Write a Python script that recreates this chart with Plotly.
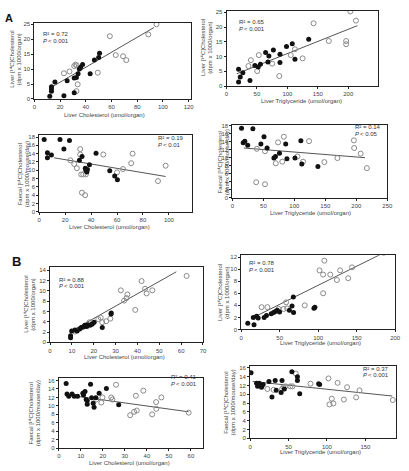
import plotly.graph_objects as go

W, H = 409, 471

# ---------------- DATA ----------------
# Panel A1: Liver cholesterol vs liver [14C]cholesterol
a1_fx = [12, 13.3, 13.3, 13.3, 16, 23, 25.5, 31, 31, 32.7, 34, 35, 36, 37.5, 43.4, 46.7, 50, 50.7]
a1_fy = [0.9, 3.4, 2.6, 4.1, 5.7, 1.1, 6.1, 7, 2.1, 7.2, 8.4, 10, 10.6, 11.5, 8.4, 13, 13.9, 15.3]
a1_ox = [23, 27.3, 31, 32, 33, 33.7, 32.7, 49.3, 58.7, 63.3, 69, 71.5, 88.6, 95]
a1_oy = [8.6, 9.2, 11, 11.5, 11.2, 4.9, 2.6, 8.8, 21, 14.7, 14.3, 13, 21.6, 25]
a1_lx = [12.8, 93]
a1_ly = [3.8, 23.9]

# Panel A2: Liver triglyceride vs liver [14C]cholesterol
a2_fx = [19.8, 19.8, 22.5, 26.8, 38.5, 46.6, 52, 55.7, 64.2, 68, 69.6, 77, 87.8, 87.8, 98.5, 108, 112.4, 135]
a2_fy = [1.4, 5.7, 3.1, 4.5, 1.9, 7, 6.5, 7.4, 11.4, 8.2, 10.2, 12.2, 8, 10.8, 13.4, 14.4, 9.1, 15.9]
a2_ox = [36, 40, 50.4, 53, 75, 86.7, 105.5, 112.4, 125, 143, 168, 196.5, 196.5, 203.4, 212.5]
a2_oy = [6.8, 8.8, 5.1, 10.5, 7.6, 3.4, 10.5, 12.5, 9.4, 21.3, 15.3, 15.3, 14.2, 25.3, 22.2]
a2_lx = [17, 215]
a2_ly = [4.2, 20.5]

# Panel A3: Liver cholesterol vs faecal [14C]cholesterol
a3_fx = [3.8, 6.3, 6.3, 9.4, 16, 19, 23.3, 31, 33, 35.5, 36, 36.7, 37.2, 38.7, 43.8, 54.4, 58.2, 60.3]
a3_fy = [17.4, 14.2, 13, 13.7, 17.4, 15.1, 17.2, 12.4, 13.3, 10.5, 10, 9.6, 10.2, 11.3, 14.1, 9.9, 8.6, 7.7]
a3_ox = [31.6, 31.6, 24, 27, 29, 32.4, 34, 36, 32.9, 35.4, 49.4, 60, 64.6, 70.9, 72, 91.6, 97.5]
a3_oy = [15.1, 13.8, 12.4, 11.5, 10.5, 9, 9, 9, 4.6, 4, 13.8, 9.5, 10.3, 11.7, 14, 7.4, 11.1]
a3_lx = [11.4, 97.5]
a3_ly = [13, 8.5]

# Panel A4: Liver triglyceride vs faecal [14C]cholesterol
a4_fx = [14.7, 17.4, 20, 24.7, 33, 46, 51, 56, 67, 69.5, 76, 86, 88, 101, 110.5, 112, 138]
a4_fy = [17.3, 13.7, 14.1, 13.1, 17.2, 13.4, 15.2, 12.4, 9.9, 10.3, 11.1, 13.4, 9.7, 9.9, 14.2, 8.4, 7.8]
a4_ox = [39.5, 38.4, 52.6, 52.6, 70, 73.7, 80.5, 83, 105, 114, 123.7, 148.4, 169.5, 196, 196.5, 207, 217]
a4_oy = [12.2, 3.9, 11.6, 3.4, 8.6, 13.8, 9, 15.2, 10.3, 9, 14.1, 8.9, 9.9, 14.3, 12.4, 11, 7.4]
a4_lx = [18.4, 214]
a4_ly = [12.4, 10]

# Panel B1
b1_fx = [9.4, 9.4, 9.9, 11.4, 12.4, 13.6, 14.3, 15.3, 15.9, 16.8, 17.4, 18.3, 19.2, 20.2, 23.9, 28, 27.9]
b1_fy = [1.3, 0.9, 2.2, 2.4, 2.2, 2.6, 2.9, 3.0, 3.3, 3.1, 3.4, 3.3, 3.5, 3.9, 2.9, 5.7, 5.5]
b1_ox = [11.4, 18, 19.5, 22.1, 23.2, 23.9, 25.7, 27.6, 32.4, 33.9, 35, 35.4, 39, 41.9, 43.5, 44.2, 46.8, 62.5]
b1_oy = [2.1, 3.9, 3.7, 4.5, 4.8, 3.9, 4.1, 4.6, 10.1, 8.1, 8.6, 9.3, 6.3, 11.9, 10.4, 9.5, 10.1, 12.9]
b1_lx = [9.4, 57.8]
b1_ly = [2.1, 13.7]

# Panel B2
b2_fx = [8.5, 16.6, 15.7, 20, 22, 29.8, 32.8, 39, 42, 44.3, 46.8, 49.8, 62.6, 66, 67.7, 68, 94.5, 95.7]
b2_fy = [1.05, 0.8, 2, 2.2, 1.9, 2, 2.3, 2.6, 2.8, 3, 3.2, 2.9, 3.2, 3.9, 5.4, 2.8, 3.5, 3.7]
b2_ox = [26.4, 34, 48.5, 55, 58.3, 59.6, 82.5, 101.7, 106.4, 106.4, 108, 115.7, 124.3, 128.5, 139, 144, 185]
b2_oy = [3.7, 3.7, 3.4, 3.4, 4.5, 3.5, 4, 9.8, 9.1, 6, 11.4, 9.1, 8.2, 9.8, 8.5, 10.3, 12.7]
b2_lx = [15.7, 185]
b2_ly = [2, 12.7]

# Panel B3
b3_fx = [3.3, 3.7, 4.5, 6, 7, 8.5, 10.9, 11.2, 11.9, 12.4, 12.9, 12.9, 14.4, 14.9, 15.6, 16, 16.8, 18.3, 21.6, 27.2]
b3_fy = [15.3, 12.8, 12.3, 12.8, 12.3, 12.3, 13, 12.6, 13.4, 11.5, 11.2, 10.4, 15.1, 11.9, 10.6, 9.7, 11.9, 13, 14.1, 10.3]
b3_ox = [17, 19.3, 19.8, 23.8, 24.3, 26, 32.4, 34.2, 35.4, 35, 38.4, 42.4, 44.2, 44.3, 46.6, 59]
b3_oy = [11.5, 10.8, 12, 12, 11.5, 15, 7.8, 8.6, 8.9, 12.4, 13.6, 8, 10.9, 9.3, 12, 8.4]
b3_lx = [3.7, 59]
b3_ly = [12.6, 8.6]

# Panel B4
b4_fx = [1.3, 8.5, 9.8, 11.9, 14.9, 17, 24.6, 28.5, 32.7, 34, 40.4, 41.6, 44.6, 54.4, 61.6, 61.6, 64.6, 89.2, 90.5]
b4_fy = [14.9, 12.5, 11.8, 12.5, 11.6, 12.2, 12.9, 9.4, 13.1, 10.9, 10.4, 13.1, 11.2, 15.1, 14, 13.1, 10.1, 12.4, 12.2]
b4_ox = [22.5, 30.6, 41.6, 43.4, 45.9, 52.3, 55.2, 59.5, 78.6, 102, 103.3, 106.3, 108.4, 113.9, 122, 126.2, 138, 142.4, 185.7]
b4_oy = [11.2, 11, 11.2, 11.6, 11.8, 11.8, 11.8, 14.7, 12.4, 13.6, 7.7, 9, 7.9, 12.6, 8.8, 11.6, 9.3, 10.9, 8.7]
b4_lx = [3.4, 185]
b4_ly = [12.9, 9.6]

r2_text = ["R² = 0.72", "R² = 0.65", "R² = 0.19", "R² = 0.14",
           "R² = 0.88", "R² = 0.78", "R² = 0.41", "R² = 0.37"]
p_text = ["< 0.001", "< 0.001", "< 0.01", "< 0.05",
          "< 0.001", "< 0.001", "< 0.001", "< 0.001"]
xtitles = ["Liver Cholesterol (umol/organ)", "Liver Triglyceride (umol/organ)"]
ytitles = [("Liver [¹⁴C]Cholesterol", "(dpm x 1000/organ)"),
           ("Faecal [¹⁴C]Cholesterol", "(dpm x 1000/mouse/day)")]

# ---------------- LAYOUT ----------------
panels = [
    ((a1_fx, a1_fy, a1_ox, a1_oy, a1_lx, a1_ly), [0, 122], [0, 25.5], 33, 193, 98, 21, 20, 5, (40, 36, "left"), 0, 0, (105, 114), (14, 58)),
    ((a2_fx, a2_fy, a2_ox, a2_oy, a2_lx, a2_ly), [0, 248], [0, 25.5], 229, 383, 85, 9, 50, 5, (240, 24, "left"), 1, 0, (305, 100), (208, 46)),
    ((a3_fx, a3_fy, a3_ox, a3_oy, a3_lx, a3_ly), [0, 118], [0, 18.6], 38, 194, 212, 134, 20, 2, (187, 141, "right"), 0, 1, (110, 227), (22, 174)),
    ((a4_fx, a4_fy, a4_ox, a4_oy, a4_lx, a4_ly), [0, 250], [0, 18.2], 235, 393, 198, 124, 50, 2, (388, 130, "right"), 1, 1, (315, 213), (226, 162)),
    ((b1_fx, b1_fy, b1_ox, b1_oy, b1_lx, b1_ly), [0, 70], [0, 14.6], 49, 205, 344, 268, 10, 2, (56, 284, "left"), 0, 0, (125, 359), (28, 306)),
    ((b2_fx, b2_fy, b2_ox, b2_oy, b2_lx, b2_ly), [0, 200], [0, 12.3], 244, 401, 331, 256, 50, 2, (250, 267, "left"), 1, 0, (325, 345), (226, 294)),
    ((b3_fx, b3_fy, b3_ox, b3_oy, b3_lx, b3_ly), [0, 65.5], [0, 16.6], 58, 205, 451, 380, 10, 2, (200, 383, "right"), 0, 1, (130, 466), (33, 416)),
    ((b4_fx, b4_fy, b4_ox, b4_oy, b4_lx, b4_ly), [0, 190], [0, 16.4], 253, 402, 441, 368, 50, 2, (396, 374, "right"), 1, 1, (325, 455), (232, 405)),
]

FONT = "Liberation Sans"
fig = go.Figure()
annotations = []
layout_axes = {}


def ann(px, py, text, size=6, xanchor="center", angle=0, color="#444444", style="normal"):
    return dict(x=px / W, y=1 - py / H, xref="paper", yref="paper", text=text,
                showarrow=False, xanchor=xanchor, yanchor="middle", textangle=angle,
                font=dict(size=size, color=color, family=FONT, style=style))


for i, (d, xr, yr, x0, x1, yb, yt, xdt, ydt, spos, xti, yti, xtp, ytp) in enumerate(panels):
    n = "" if i == 0 else str(i + 1)
    xa, ya = "x" + n, "y" + n
    fx, fy, ox, oy, lx, ly = d
    fig.add_trace(go.Scatter(x=lx, y=ly, mode="lines", xaxis=xa, yaxis=ya,
                             line=dict(color="#555555", width=1), showlegend=False, hoverinfo="skip"))
    fig.add_trace(go.Scatter(x=ox, y=oy, mode="markers", xaxis=xa, yaxis=ya, showlegend=False,
                             marker=dict(symbol="circle-open", size=5, color="#8a8a8a", line=dict(width=1))))
    fig.add_trace(go.Scatter(x=fx, y=fy, mode="markers", xaxis=xa, yaxis=ya, showlegend=False,
                             marker=dict(symbol="circle", size=5, color="#111111")))
    common = dict(showline=True, linecolor="#222222", linewidth=1, mirror=True, ticks="outside",
                  ticklen=2, tickcolor="#222222", showgrid=False, zeroline=False,
                  tickfont=dict(size=6, color="#444444", family=FONT))
    layout_axes["xaxis" + n] = dict(common, domain=[x0 / W, x1 / W], range=xr, dtick=xdt,
                                    tick0=0, anchor=ya)
    layout_axes["yaxis" + n] = dict(common, domain=[1 - yb / H, 1 - yt / H], range=yr, dtick=ydt,
                                    tick0=0, anchor=xa)
    sx = spos[0] if spos[2] == "left" else spos[0] - 30
    annotations.append(ann(sx, spos[1] - 3.5, r2_text[i], xanchor="left", color="#333333"))
    annotations.append(ann(sx, spos[1] + 3.5, "P", xanchor="left", color="#333333", style="italic"))
    annotations.append(ann(sx + 5, spos[1] + 3.5, p_text[i], xanchor="left", color="#333333"))
    annotations.append(ann(xtp[0], xtp[1], xtitles[xti]))
    annotations.append(ann(ytp[0] - 3.5, ytp[1], ytitles[yti][0], angle=-90))
    annotations.append(ann(ytp[0] + 3.5, ytp[1], ytitles[yti][1], angle=-90))

annotations.append(ann(1, 16, "<b>A</b>", size=11, xanchor="left", color="#111111"))
annotations.append(ann(8, 262, "<b>B</b>", size=13, xanchor="left", color="#111111"))

fig.update_layout(width=W, height=H, margin=dict(l=0, r=0, t=0, b=0),
                  paper_bgcolor="white", plot_bgcolor="white", annotations=annotations,
                  **layout_axes)
fig.write_html("out.html")
